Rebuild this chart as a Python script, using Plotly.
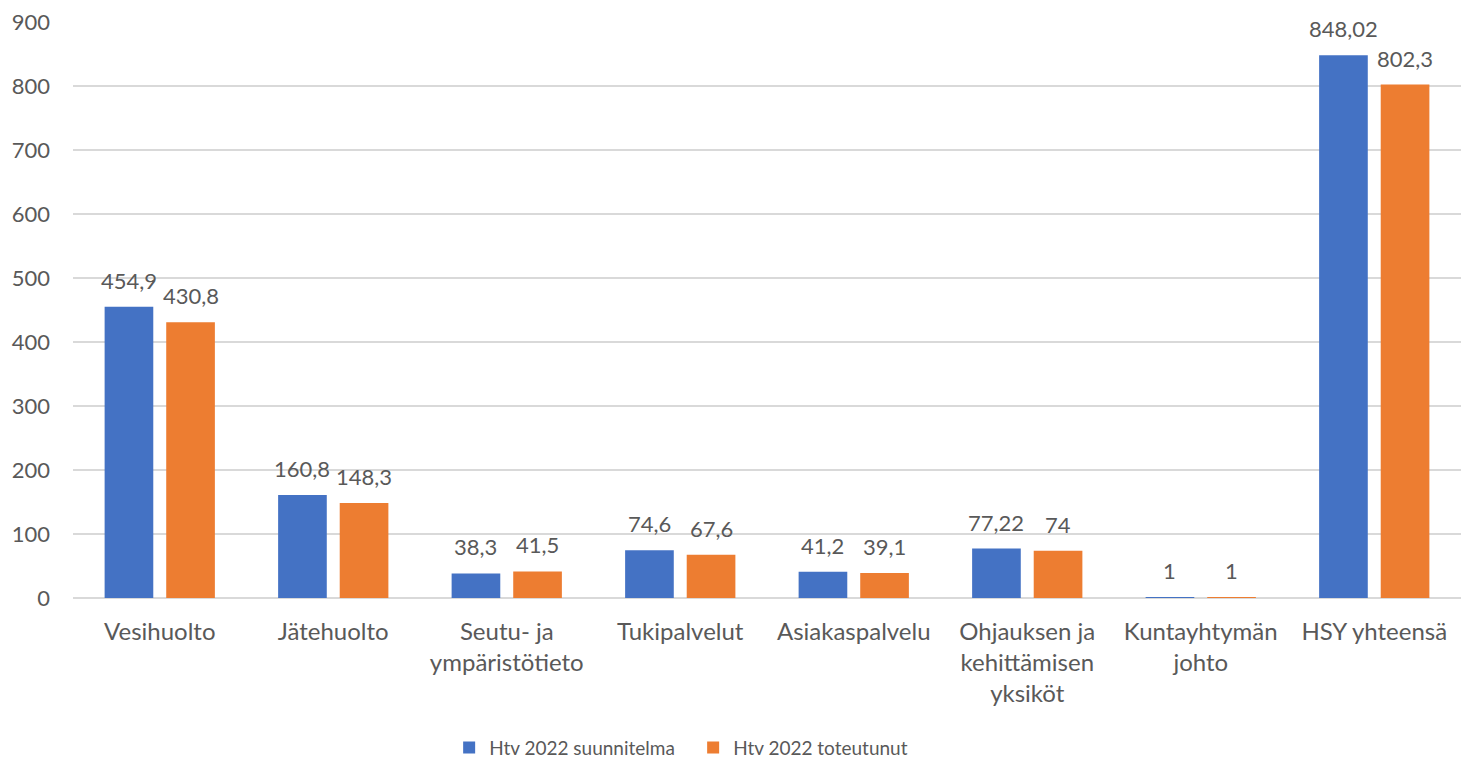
import plotly.graph_objects as go

# Henkilötyövuodet 2022: suunnitelma vs. toteutunut
categories = [
    "Vesihuolto",
    "Jätehuolto",
    "Seutu- ja<br>ympäristötieto",
    "Tukipalvelut",
    "Asiakaspalvelu",
    "Ohjauksen ja<br>kehittämisen<br>yksiköt",
    "Kuntayhtymän<br>johto",
    "HSY yhteensä",
]
planned = [454.9, 160.8, 38.3, 74.6, 41.2, 77.22, 1, 848.02]
actual = [430.8, 148.3, 41.5, 67.6, 39.1, 74, 1, 802.3]
series_names = ["Htv 2022 suunnitelma", "Htv 2022 toteutunut"]
y_ticks = [0, 100, 200, 300, 400, 500, 600, 700, 800, 900]

BLUE = "#4472C4"
ORANGE = "#ED7D31"
TEXT = "#595959"
GRID = "#D9D9D9"
FONT = "Lato"


def fi_number(v):
    s = f"{v:g}"
    return s.replace(".", ",")


fig = go.Figure()
fig.add_trace(go.Bar(x=categories, y=planned, name=series_names[0],
                     marker=dict(color=BLUE, line=dict(width=0))))
fig.add_trace(go.Bar(x=categories, y=actual, name=series_names[1],
                     marker=dict(color=ORANGE, line=dict(width=0))))

# value labels above each bar
for values, shift in ((planned, -31), (actual, 31)):
    for cat, v in zip(categories, values):
        fig.add_annotation(x=cat, y=v, xref="x", yref="y", text=fi_number(v),
                           showarrow=False, yanchor="bottom", xshift=shift,
                           yshift=11, font=dict(family=FONT, size=22, color=TEXT))

fig.update_layout(
    width=1470, height=768,
    margin=dict(l=73, r=9, t=22, b=170, autoexpand=False),
    paper_bgcolor="white", plot_bgcolor="white",
    barmode="group", bargap=0.29, bargroupgap=0.21,
    font=dict(family=FONT, size=22, color=TEXT),
    showlegend=True,
    legend=dict(orientation="h", x=0.271, xanchor="left", y=-0.26,
                yanchor="middle", font=dict(family=FONT, size=19, color=TEXT),
                itemwidth=30, entrywidth=199, entrywidthmode="pixels",
                traceorder="normal"),
)
fig.update_xaxes(showline=False, ticks="", tickfont=dict(size=24, color=TEXT),
                 tickangle=0, automargin=False, ticklabelstandoff=17)
fig.update_yaxes(range=[0, 900], tickvals=y_ticks, showgrid=True, gridcolor=GRID,
                 gridwidth=1.5, zeroline=True, zerolinecolor=GRID, zerolinewidth=1.5,
                 showline=False, ticks="", ticklabelstandoff=22, automargin=False,
                 tickfont=dict(size=22, color=TEXT))

fig.write_html("out.html")
